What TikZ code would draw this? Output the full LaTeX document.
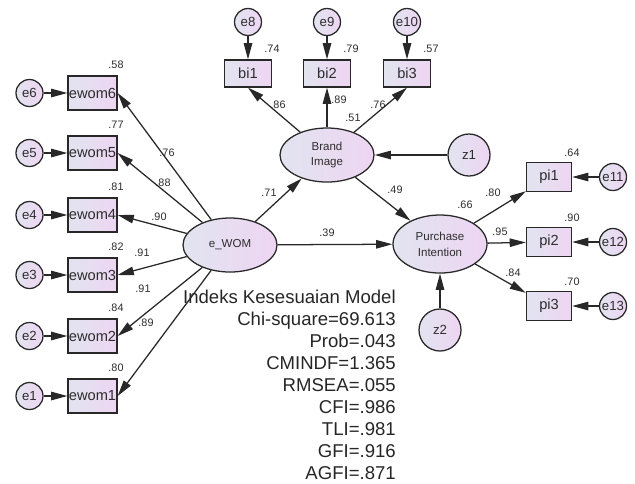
\documentclass[tikz,border=0pt]{standalone}
\usepackage{fontspec}
\setmainfont{Liberation Sans}
\usetikzlibrary{arrows.meta,shapes.geometric}
\definecolor{lnc}{RGB}{40,40,40}
\definecolor{txc}{RGB}{45,45,45}
\definecolor{fla}{RGB}{226,228,240}
\definecolor{flb}{RGB}{238,213,242}
\tikzset{
  shade2/.style={draw=lnc,line width=0.9pt,left color=fla,right color=flb,inner sep=0pt,text=txc},
  obsbox/.style={shade2,rectangle,minimum width=1.225cm,minimum height=0.85cm,font=\fontsize{10.4}{12}\selectfont},
  errc/.style={shade2,circle,minimum size=0.675cm,font=\fontsize{9.4}{11}\selectfont},
  distc/.style={shade2,circle,minimum size=1.05cm,font=\fontsize{9.4}{11}\selectfont},
  latent/.style={shade2,ellipse,minimum width=2.35cm,minimum height=1.35cm,align=center,font=\fontsize{8.2}{11.2}\selectfont},
  num/.style={inner sep=0pt,text=txc,font=\fontsize{7.7}{9}\selectfont},
  pth/.style={draw=lnc,line width=0.9pt,-{Triangle[length=11.5pt,width=6pt]}}
}

\begin{document}
\begin{tikzpicture}[x=0.025cm,y=-0.025cm]
  \useasboundingbox (0,0) rectangle (635,483);
  \node[latent] (ewom) at (230,245) {e\_WOM};
  \node[latent] (bimg) at (327,155) {Brand\\Image};
  \node[latent,minimum height=1.45cm] (pint) at (440,244) {Purchase\\Intention};
  \node[distc] (z1) at (469,155) {z1};
  \node[distc] (z2) at (440,330) {z2};
  \foreach \i/\y/\rsq/\lx/\ly/\ld in {6/93/.58/167/153/.76,5/153/.77/163/183/.88,4/215/.81/159/217/.90,
      3/275/.82/142/253/.91,2/336/.84/143/289/.91,1/396/.80/146/323/.89} {
    \node[obsbox] (ew\i) at (92.5,\y) {ewom\i};
    \node[errc] (e\i) at (29.5,\y) {e\i};
    \node[num] (r\i) at (116,\y-28) {\rsq};
    \node[num] (l\i) at (\lx,\ly) {\ld};
    \draw[pth] (e\i) -- (ew\i);
    \draw[pth] (ewom) -- (ew\i.east);
  }
  \foreach \j/\x/\e/\rsq/\lx/\ly/\ld in {1/248/8/.74/278/105/.86,2/327/9/.79/339/100/.89,3/407/10/.57/378/105/.76} {
    \node[obsbox,minimum width=1.175cm,minimum height=0.675cm] (bi\j) at (\x,73.5) {bi\j};
    \node[errc] (e\e) at (\x,22) {e\e};
    \node[num] (rb\j) at (\x+24,49) {\rsq};
    \node[num] (lb\j) at (\lx,\ly) {\ld};
    \draw[pth] (e\e) -- (bi\j);
    \draw[pth] (bimg) -- (bi\j.south);
  }
  \foreach \k/\y/\e/\rsq/\lx/\ly/\ld in {1/177/11/.64/493/193/.80,2/242/12/.90/500/232/.95,3/306/13/.70/513/273/.84} {
    \node[obsbox,minimum width=1.125cm,minimum height=0.725cm] (pi\k) at (549,\y) {pi\k};
    \node[errc] (e\e) at (613,\y) {e\e};
    \node[num] (rp\k) at (572,\y-24) {\rsq};
    \node[num] (lp\k) at (\lx,\ly) {\ld};
    \draw[pth] (e\e) -- (pi\k);
    \draw[pth] (pint) -- (pi\k);
  }
  \draw[pth] (ewom) -- (bimg);
  \draw[pth] (bimg) -- (pint);
  \draw[pth] (ewom) -- (pint);
  \draw[pth] (z1) -- (bimg);
  \draw[pth] (z2) -- (pint);
  \node[num] (k71) at (269,193) {.71};
  \node[num] (k51) at (353,118) {.51};
  \node[num] (k49) at (395,190) {.49};
  \node[num] (k39) at (327,233) {.39};
  \node[num] (k66) at (465,205) {.66};
  \node[anchor=east,inner sep=0pt,align=right,text=black!85,font=\fontsize{13.2}{15.6}\selectfont] (fit) at (396,385)
    {Indeks Kesesuaian Model\\Chi-square=69.613\\Prob=.043\\CMINDF=1.365\\RMSEA=.055\\CFI=.986\\TLI=.981\\GFI=.916\\AGFI=.871};
\end{tikzpicture}
\end{document}
